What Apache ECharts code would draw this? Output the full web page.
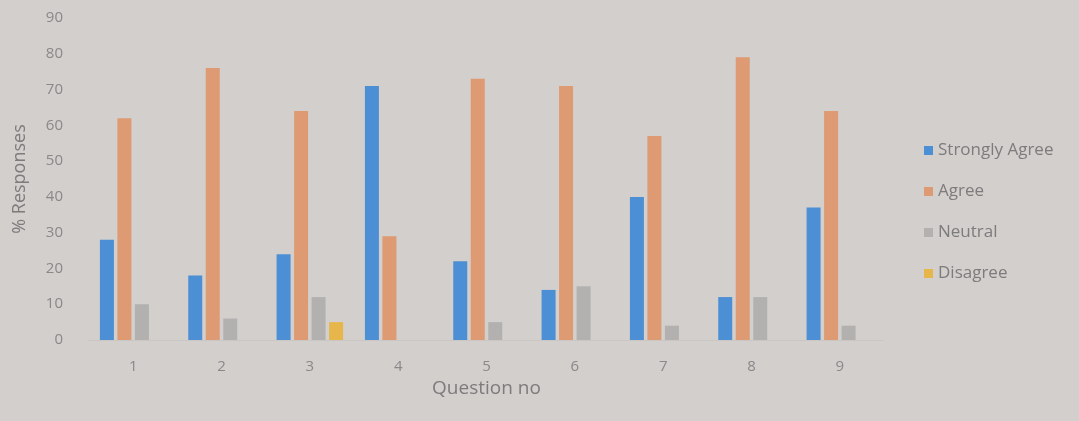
<!DOCTYPE html>
<html><head><meta charset="utf-8">
<script src="https://cdn.jsdelivr.net/npm/echarts@6/dist/echarts.min.js"></script>
<style>html,body{margin:0;padding:0;background:#d2cfcd;}#c{width:1079px;height:421px;}</style>
</head><body><div id="c"></div>
<script>
const categories = ['1','2','3','4','5','6','7','8','9'];
const stronglyAgree = [28, 18, 24, 71, 22, 14, 40, 12, 37];
const agree = [62, 76, 64, 29, 73, 71, 57, 79, 64];
const neutral = [10, 6, 12, 0, 5, 15, 4, 12, 4];
const disagree = [0, 0, 5, 0, 0, 0, 0, 0, 0];
const yTicks = [0, 10, 20, 30, 40, 50, 60, 70, 80, 90];

const font = "'Open Sans', 'Noto Sans', sans-serif";
const chart = echarts.init(document.getElementById('c'));
const mk = (name, data, color) => ({
  name, type: 'bar', data, barWidth: 14, barGap: '25%',
  itemStyle: { color }, emphasis: { disabled: true }
});
chart.setOption({
  animation: false,
  backgroundColor: '#d2cfcd',
  grid: { left: 89, right: 195, top: 18, bottom: 81 },
  legend: {
    orient: 'vertical', left: 919, top: 137, itemGap: 24,
    icon: 'rect', itemWidth: 9, itemHeight: 9,
    textStyle: { color: '#7d7b7b', fontSize: 17, fontFamily: font }
  },
  xAxis: {
    type: 'category', data: categories,
    name: 'Question no', nameLocation: 'middle', nameGap: 38,
    nameTextStyle: { color: '#7d7b7b', fontSize: 19, fontFamily: font },
    axisLine: { show: true, lineStyle: { color: '#c9c6c4' } },
    axisTick: { show: false },
    axisLabel: { color: '#8a8888', fontSize: 15, margin: 19, fontFamily: font }
  },
  yAxis: {
    type: 'value', min: 0, max: 90, interval: 10,
    name: '% Responses', nameLocation: 'middle', nameGap: 60, nameRotate: 90,
    nameTextStyle: { color: '#7d7b7b', fontSize: 18, fontFamily: font },
    axisLine: { show: false }, axisTick: { show: false },
    splitLine: { show: false },
    axisLabel: { color: '#8a8888', fontSize: 15, margin: 26, fontFamily: font,
      formatter: v => yTicks.includes(v) ? String(v) : '' }
  },
  series: [
    mk('Strongly Agree', stronglyAgree, '#4d8fd4'),
    mk('Agree', agree, '#de9a72'),
    mk('Neutral', neutral, '#b3b1b0'),
    mk('Disagree', disagree, '#e6b64a')
  ]
});
</script></body></html>
